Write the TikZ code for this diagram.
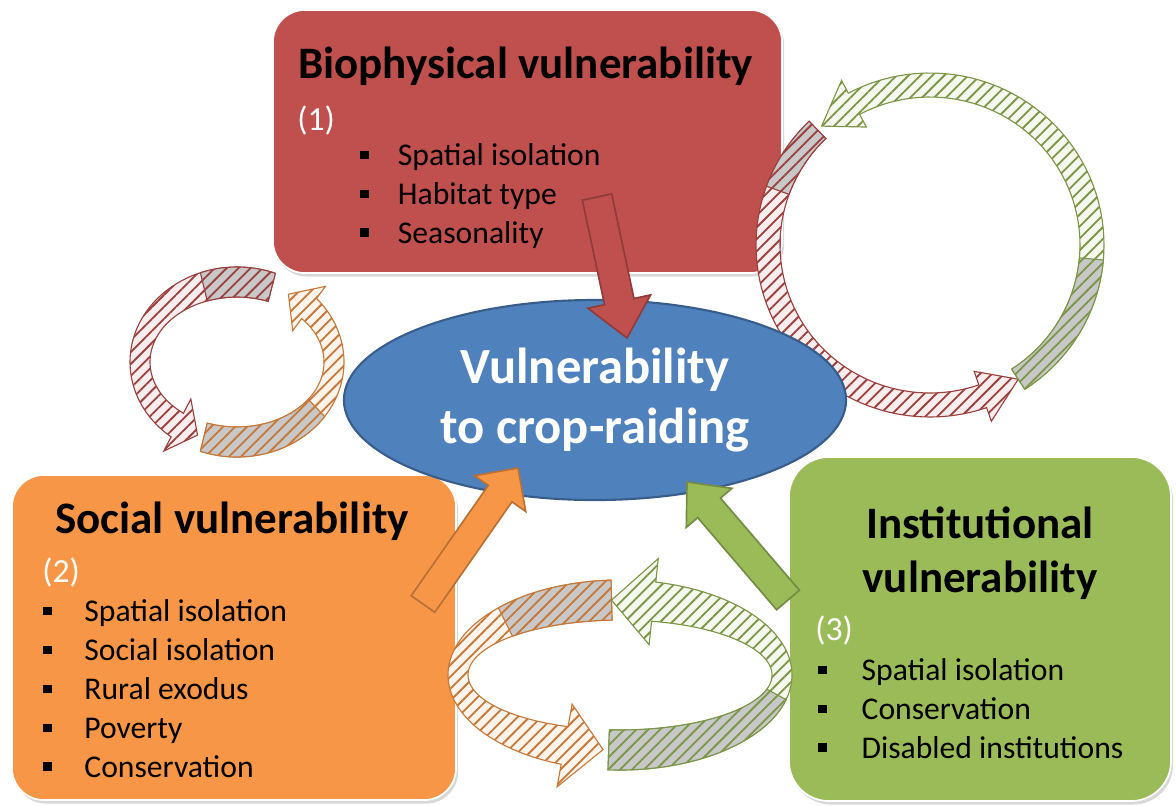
\documentclass[tikz,border=0pt]{standalone}
\usepackage{fontspec}
\setmainfont{Carlito}
\usetikzlibrary{calc,shapes.geometric,patterns.meta,shadows}
\definecolor{bioRed}{HTML}{C0504D}
\definecolor{socOrange}{HTML}{F79646}
\definecolor{instGreen}{HTML}{9BBB59}
\definecolor{cropBlue}{HTML}{4F81BD}
\definecolor{cropBlueDark}{HTML}{385D8A}
\definecolor{backGray}{HTML}{C8C8C8}

\newcommand{\bul}[1][1.3em]{\makebox[#1][l]{\rule[0.2em]{0.26em}{0.26em}}}

% hatched ribbon arrow on an ellipse: centre, rx, ry, half widths x/y, start, end, tip angle, style
\newcommand{\looparrow}[9]{%
  \begin{scope}[shift={#1}]
    \draw[#9] plot[domain=#6:#7, samples=60] ({(#2+#4)*cos(\x)},{(#3+#5)*sin(\x)})
      -- ({(#2+2.2*#4)*cos(#7)},{(#3+2.2*#5)*sin(#7)})
      -- ({#2*cos(#8)},{#3*sin(#8)})
      -- ({(#2-2.2*#4)*cos(#7)},{(#3-2.2*#5)*sin(#7)})
      -- plot[domain=#7:#6, samples=60] ({(#2-#4)*cos(\x)},{(#3-#5)*sin(\x)})
      -- cycle;
  \end{scope}}
% back side of a ribbon, no head
\newcommand{\loopband}[8]{%
  \begin{scope}[shift={#1}]
    \draw[#8] plot[domain=#6:#7, samples=30] ({(#2+#4)*cos(\x)},{(#3+#5)*sin(\x)})
      -- plot[domain=#7:#6, samples=30] ({(#2-#4)*cos(\x)},{(#3-#5)*sin(\x)})
      -- cycle;
  \end{scope}}
% straight block arrow: tail, tip, shaft half width, head half width, head length, style
\newcommand{\blockarrow}[6]{%
  \coordinate (ba-h) at ($#2!#5!#1$);
  \draw[#6] ($#1!#3!90:#2$) -- ($(ba-h)!#3!90:#2$) -- ($(ba-h)!#4!90:#2$) -- #2
    -- ($(ba-h)!#4!-90:#2$) -- ($(ba-h)!#3!-90:#2$) -- ($#1!#3!-90:#2$) -- cycle;}

\begin{document}
\begin{tikzpicture}[x=0.025cm, y=-0.025cm,
  vbox/.style={rectangle, rounded corners=0.8cm, fill=#1, draw=white, line width=1.2pt,
               drop shadow={shadow xshift=1.5pt, shadow yshift=-2.5pt, opacity=0.3}},
  title/.style={font=\fontsize{32}{38}\selectfont\bfseries, inner sep=0pt},
  items/.style={font=\fontsize{22.5}{27.7}\selectfont, align=left, inner sep=0pt},
  num/.style={font=\fontsize{24}{28}\selectfont, text=white, inner sep=0pt},
  hatch/.style={draw=#1!80!black, line width=0.8pt,
                pattern={Lines[angle=45, distance=6pt, line width=1.3pt]}, pattern color=#1!80!black},
  front/.style={hatch=#1, preaction={fill=#1!10}},
  back/.style={hatch=#1, preaction={fill=backGray}},
  blockarr/.style={fill=#1, draw=#1!75!black, line width=1.2pt},
]
\fill[white] (0,0) rectangle (1176,805);
\useasboundingbox (0,0) rectangle (1176,805);

% factor boxes
\node[vbox=bioRed, minimum width=12.725cm, minimum height=6.575cm] (bio) at (527.5,141.5) {};
\node[vbox=socOrange, minimum width=11.1cm, minimum height=8.125cm] (soc) at (234,637.5) {};
\node[vbox=instGreen, minimum width=9.55cm, minimum height=8.6cm, rounded corners=1cm] (inst) at (980,629) {};

% base of a multi-line node = baseline of its last line
\node[title, anchor=base west] (bio-title) at (298,78) {Biophysical vulnerability};
\node[num, anchor=base west] (bio-num) at (297,130) {(1)};
\node[items, anchor=base west] (bio-list) at (360,243)
  {\bul[1.19em]Spatial isolation\\\bul[1.19em]Habitat type\\\bul[1.19em]Seasonality};

\node[title, anchor=base west] (soc-title) at (55,533) {Social vulnerability};
\node[num, anchor=base west] (soc-num) at (42,582) {(2)};
\node[items, anchor=base west] (soc-list) at (43,777)
  {\bul Spatial isolation\\\bul Social isolation\\\bul Rural exodus\\\bul Poverty\\\bul Conservation};

\node[title, anchor=base, align=center] (inst-title) at (980,592) {Institutional\\vulnerability};
\node[num, anchor=base west] (inst-num) at (815,640) {(3)};
\node[items, anchor=base west] (inst-list) at (818,758)
  {\bul[1.37em]Spatial isolation\\\bul[1.37em]Conservation\\\bul[1.37em]Disabled institutions};

% feedback loops
\looparrow{(930,245)}{162}{160}{12}{12}{226}{71}{57}{front=bioRed}
\loopband{(930,245)}{162}{160}{12}{12}{226}{200}{back=bioRed}
\looparrow{(930,245)}{162}{160}{12}{12}{57}{-118}{-132}{front=instGreen}
\loopband{(930,245)}{162}{160}{12}{12}{57}{5}{back=instGreen}

\looparrow{(237,362)}{97}{80}{10}{15}{-69}{-232}{-246}{front=bioRed}
\loopband{(237,362)}{97}{80}{10}{15}{-69}{-110}{back=bioRed}
\looparrow{(237,362)}{97}{80}{10}{15}{110}{-42}{-58}{front=socOrange}
\loopband{(237,362)}{97}{80}{10}{15}{110}{35}{back=socOrange}

\looparrow{(620,675)}{162}{75}{10}{20}{-93}{-250}{-264}{front=socOrange}
\loopband{(620,675)}{162}{75}{10}{20}{-93}{-135}{back=socOrange}
\looparrow{(620,675)}{162}{75}{10}{20}{94}{-78}{-93}{front=instGreen}
\loopband{(620,675)}{162}{75}{10}{20}{94}{15}{back=instGreen}

% centre
\node[ellipse, fill=cropBlue, draw=cropBlueDark, line width=1.5pt, minimum width=12.55cm,
  minimum height=5cm, inner sep=0pt, font=\fontsize{36}{42}\selectfont\bfseries,
  text=white, align=center] (crop) at (595,400) {Vulnerability\\to crop-raiding};

% influences
\coordinate (bio-tail) at (597,197);
\coordinate (bio-tip) at (627,338);
\coordinate (soc-tail) at (423,604);
\coordinate (soc-tip) at (518,468);
\coordinate (inst-tail) at (788,600);
\coordinate (inst-tip) at (687,482);
\blockarrow{(bio-tail)}{(bio-tip)}{0.375cm}{0.8cm}{0.93cm}{blockarr=bioRed}
\blockarrow{(soc-tail)}{(soc-tip)}{0.36cm}{0.78cm}{0.78cm}{blockarr=socOrange}
\blockarrow{(inst-tail)}{(inst-tip)}{0.375cm}{0.75cm}{0.85cm}{blockarr=instGreen}

\end{tikzpicture}
\end{document}
